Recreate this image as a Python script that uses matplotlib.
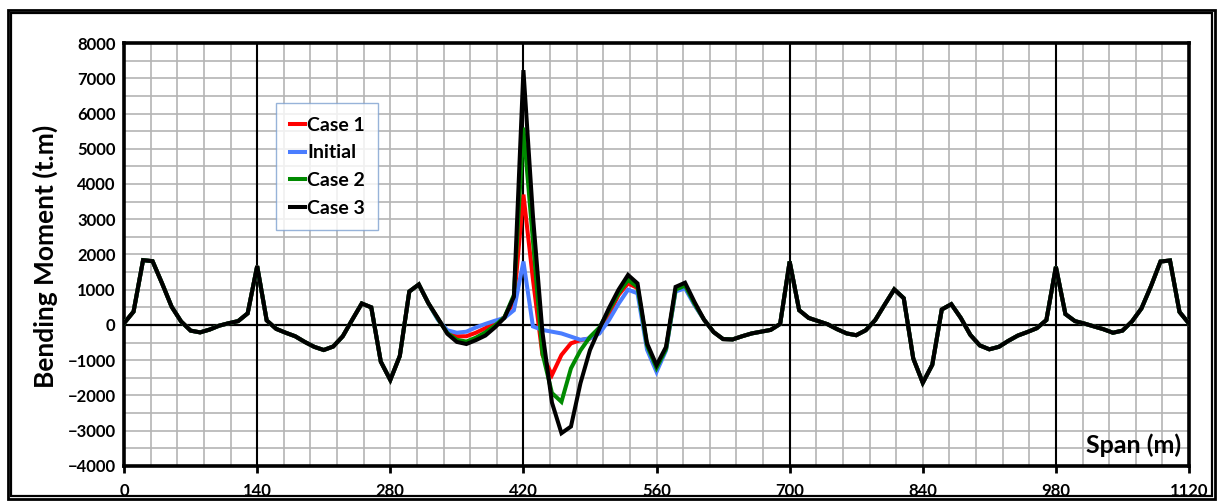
import matplotlib
matplotlib.use("Agg")
import matplotlib.pyplot as plt
from matplotlib.patches import Rectangle
from matplotlib.ticker import MultipleLocator

FONT = ["Lato", "DejaVu Sans"]
plt.rcParams["font.family"] = FONT
plt.rcParams["font.weight"] = "bold"

# span positions (m)
span_left = list(range(0, 330, 10))
span_mid = list(range(330, 610, 10))
span_right = list(range(610, 1130, 10))

# moments common to all cases (t.m)
moment_left = [50, 380, 1840, 1810, 1180, 520, 100, -160, -210, -130,
               -20, 50, 110, 330, 1670, 130, -110, -220, -320, -480,
               -620, -710, -610, -320, 150, 610, 500, -1040, -1560, -880,
               950, 1150, 620]
moment_right = [150, -200, -400, -410, -320, -240, -190, -140, 30, 1800,
                420, 200, 110, 20, -120, -240, -290, -150, 140, 580,
                1010, 760, -950, -1640, -1130, 440, 590, 200, -280, -580,
                -690, -620, -450, -300, -200, -90, 140, 1650, 310, 110,
                40, -40, -120, -220, -160, 100, 470, 1100, 1800, 1830,
                370, 40]

# moments around the 420 m support, per case
case1_mid = [170, -200, -320, -320, -220, -90, 50, 220, 650, 3700,
             1300, -850, -1420, -850, -520, -430, -380, -200, 300, 850,
             1180, 1050, -600, -1250, -680, 980, 1100, 580]
initial_mid = [150, -150, -220, -190, -70, 30, 120, 200, 420, 1800,
               -40, -140, -190, -240, -330, -420, -380, -240, 140, 600,
               1000, 900, -700, -1330, -720, 950, 1040, 560]
case2_mid = [180, -230, -420, -470, -360, -210, -20, 220, 850, 5600,
             2400, -800, -1930, -2180, -1230, -720, -340, -70, 420, 900,
             1280, 1080, -580, -1220, -680, 1000, 1120, 600]
case3_mid = [200, -250, -480, -540, -430, -300, -70, 200, 800, 7230,
             3100, -200, -2200, -3070, -2880, -1650, -710, -100, 480, 1000,
             1420, 1180, -520, -1140, -620, 1080, 1200, 650]

labels = ["Case 1", "Initial", "Case 2", "Case 3"]
colors = ["#FF0000", "#4A7DFF", "#008A00", "#000000"]
mids = [case1_mid, initial_mid, case2_mid, case3_mid]

span = span_left + span_mid + span_right

fig = plt.figure(figsize=(12.21, 5.03), dpi=100)
ax = fig.add_axes([0.1016, 0.0736, 0.8722, 0.8409])

for lab, col, mid in zip(labels, colors, mids):
    ax.plot(span, moment_left + mid + moment_right, color=col, lw=2.9,
            label=lab, solid_joinstyle="miter", zorder=4)

ax.set_xlim(0, 1120)
ax.set_ylim(-4000, 8000)
ax.xaxis.set_major_locator(MultipleLocator(140))
ax.xaxis.set_minor_locator(MultipleLocator(28))
ax.yaxis.set_major_locator(MultipleLocator(1000))
ax.yaxis.set_minor_locator(MultipleLocator(500))
ax.grid(which="both", color="#B4B4B4", lw=1.2, zorder=0)
for xv in (140, 420, 700, 980):
    ax.axvline(xv, color="black", lw=1.5, zorder=2)
ax.axhline(0, color="black", lw=1.6, zorder=2)

for s in ax.spines.values():
    s.set_linewidth(2.6)
ax.tick_params(axis="x", which="major", length=5, width=2, direction="out",
               labelsize=12, pad=7)
ax.tick_params(axis="x", which="minor", length=0)
ax.tick_params(axis="y", which="both", length=0, labelsize=12, pad=6)
for t in ax.get_xticklabels() + ax.get_yticklabels():
    t.set_fontweight("bold")

fig.text(0.037, 0.49, "Bending Moment (t.m)", rotation=90, fontsize=19,
         fontweight="bold", ha="center", va="center")
ax.text(1112, -3400, "Span (m)", fontsize=18, fontweight="bold",
        ha="right", va="center", zorder=5)

leg = ax.legend(loc="upper left", bbox_to_anchor=(0.1427, 0.858),
                borderaxespad=0, fontsize=14, frameon=True, fancybox=False,
                handlelength=0.8, handletextpad=0.1, labelspacing=0.55,
                borderpad=0.7)
leg.get_frame().set_edgecolor("#7DA0D0")
leg.get_frame().set_linewidth(1.0)
for t in leg.get_texts():
    t.set_fontweight("bold")
leg.set_zorder(6)

# outer chart frame
fig.add_artist(Rectangle((0.0065, 0.008), 0.9885, 0.972, transform=fig.transFigure,
                         fill=False, ec="black", lw=2.0))
fig.add_artist(Rectangle((0.009, 0.0135), 0.9835, 0.961, transform=fig.transFigure,
                         fill=False, ec="black", lw=1.6))

fig.savefig("out.png", dpi=100)
